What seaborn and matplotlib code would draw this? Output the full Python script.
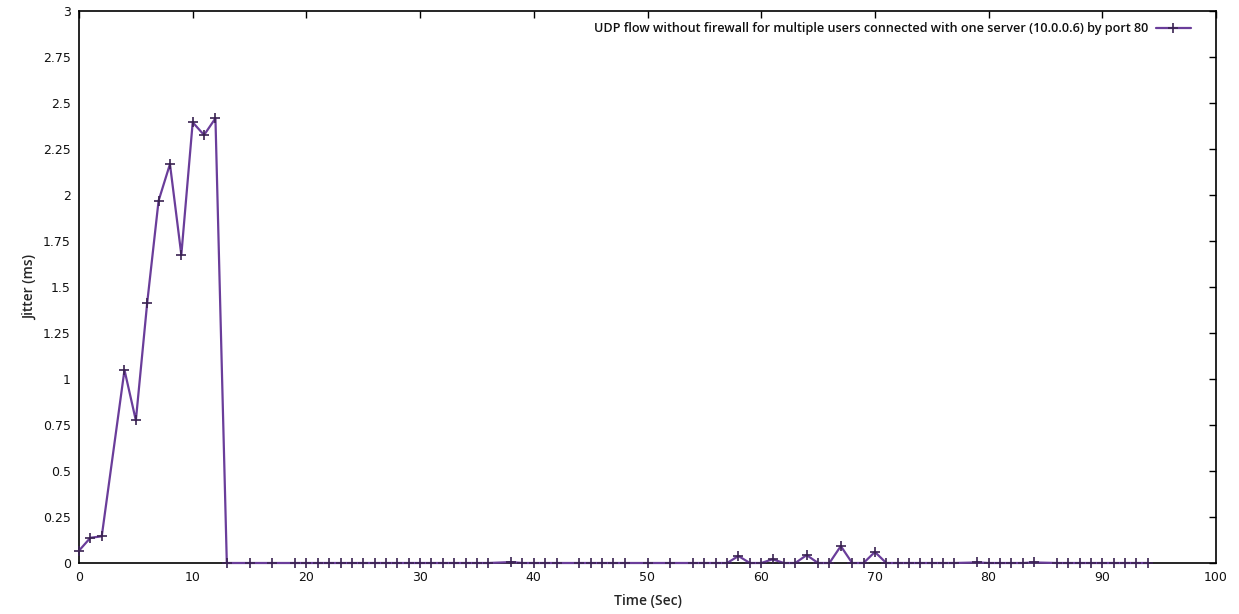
import matplotlib
matplotlib.use("Agg")
import matplotlib.pyplot as plt
import seaborn as sns
import pandas as pd
from matplotlib.ticker import FormatStrFormatter

time_sec = [0, 1, 2, 4, 5, 6, 7, 8, 9, 10, 11, 12, 13, 15, 17, 19, 20,
            21, 22, 23, 24, 25, 26, 27, 28, 29, 30, 31, 32, 33, 34, 35, 36,
            38, 39, 40, 41, 42, 44, 45, 46, 47, 48, 50, 52, 54, 55, 56, 57,
            58, 59, 60, 61, 62, 63, 64, 65, 66, 67, 68, 69, 70, 71, 72, 73,
            74, 75, 76, 77, 79, 80, 81, 82, 83, 84, 86, 87, 88, 89, 90, 91,
            92, 93, 94]
jitter_ms = [0.067, 0.137, 0.145, 1.049, 0.775, 1.415, 1.969, 2.168, 1.675,
             2.395, 2.326, 2.417, 0, 0, 0, 0, 0,
             0, 0, 0, 0, 0, 0, 0, 0, 0, 0, 0, 0, 0, 0, 0, 0,
             0.005, 0, 0, 0, 0, 0, 0, 0, 0, 0, 0, 0, 0, 0, 0, 0,
             0.038, 0, 0, 0.02, 0, 0, 0.043, 0, 0, 0.092, 0, 0, 0.06, 0, 0, 0,
             0, 0, 0, 0, 0.003, 0, 0, 0, 0, 0.003, 0, 0, 0, 0, 0, 0,
             0, 0, 0]
series_label = "UDP flow without firewall for multiple users connected with one server (10.0.0.6) by port 80"
x_ticks = [0, 10, 20, 30, 40, 50, 60, 70, 80, 90, 100]
y_ticks = [0, 0.25, 0.5, 0.75, 1, 1.25, 1.5, 1.75, 2, 2.25, 2.5, 2.75, 3]

df = pd.DataFrame({"Time": time_sec, "Jitter": jitter_ms})

sns.set_style("white")
plt.rcParams['font.family'] = ['DejaVu Sans']

W, H = 1239, 614
fig = plt.figure(figsize=(W / 100, H / 100), dpi=100)
left, right, top, bottom = 79, 1216, 11, 563
ax = fig.add_axes([left / W, (H - bottom) / H, (right - left) / W, (bottom - top) / H])

line_color = "#6a3d9a"
sns.lineplot(data=df, x="Time", y="Jitter", ax=ax, color=line_color, linewidth=1.6,
             marker="+", markersize=7, markeredgewidth=1.2, markeredgecolor="#3a2252",
             label=series_label, errorbar=None, sort=False, zorder=3, clip_on=False)

ax.set_xlim(0, 100)
ax.set_ylim(0, 3)
ax.set_xticks(x_ticks)
ax.set_yticks(y_ticks)
ax.yaxis.set_major_formatter(FormatStrFormatter('%g'))
ax.tick_params(direction='in', length=5, width=1, top=True, right=True,
               labelsize=9, colors='black', pad=6)
for lbl in ax.get_xticklabels() + ax.get_yticklabels():
    lbl.set_color('#111111')
for s in ax.spines.values():
    s.set_visible(True)
    s.set_color('black')
    s.set_linewidth(1.2)

ax.set_xlabel("Time (Sec)", fontsize=10, family=['Open Sans', 'DejaVu Sans'],
              fontweight='semibold', labelpad=7)
ax.set_ylabel("Jitter (ms)", fontsize=10, family=['Open Sans', 'DejaVu Sans'],
              fontweight='semibold', labelpad=4)

leg = ax.legend(loc='upper right', bbox_to_anchor=(0.988, 1.0), frameon=False,
                markerfirst=False, handlelength=2.8, handletextpad=0.6,
                prop={'family': ['Open Sans', 'DejaVu Sans'], 'size': 9.1,
                      'weight': 'semibold'})
for t in leg.get_texts():
    t.set_color('#111111')

fig.savefig("out.png", dpi=100)
